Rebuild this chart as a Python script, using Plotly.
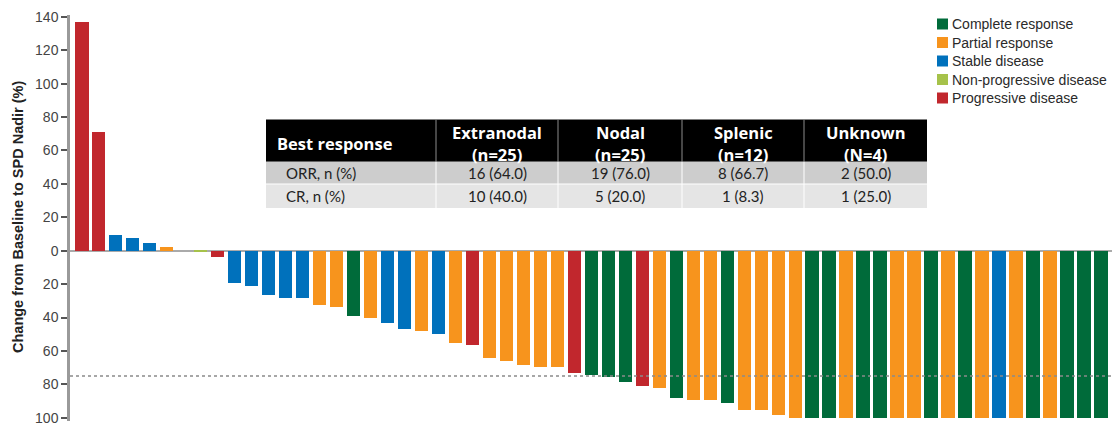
import plotly.graph_objects as go

# Best percent change from baseline to SPD nadir, one bar per patient (sorted)
change_pct = [
    137, 71, 9.5, 7.5, 4.5, 2, 0, -1, -4,
    -19.5, -21.3, -26.5, -28, -28, -32.5, -33.7, -39, -40.4, -43.4, -46.6,
    -48.3, -50, -55, -56.7, -64.4, -66.2, -68.4, -69.6, -69.6, -73.3,
    -74.6, -75.6, -78.8, -80.8, -82.2, -88.2, -89.4, -89.4, -91.4, -95.6,
    -95.6, -98.4, -100, -100, -100, -100, -100, -100, -100, -100,
    -100, -100, -100, -100, -100, -100, -100, -100, -100, -100, -100,
]
best_response = [
    "PD", "PD", "SD", "SD", "SD", "PR", "SD", "NP", "PD",
    "SD", "SD", "SD", "SD", "SD", "PR", "PR", "CR", "PR", "SD", "SD",
    "PR", "SD", "PR", "PD", "PR", "PR", "PR", "PR", "PR", "PD",
    "CR", "CR", "CR", "PD", "PR", "CR", "PR", "PR", "CR", "PR",
    "PR", "PR", "PR", "CR", "CR", "PR", "CR", "CR", "PR", "PR",
    "CR", "PR", "CR", "PR", "SD", "PR", "CR", "PR", "CR", "CR", "CR",
]

response_codes = ["CR", "PR", "SD", "NP", "PD"]
response_names = ["Complete response", "Partial response", "Stable disease",
                  "Non-progressive disease", "Progressive disease"]
response_colors = ["#006B3A", "#F7941D", "#0071BC", "#A6C24A", "#C1272D"]

threshold = -75

y_tickvals = [140, 120, 100, 80, 60, 40, 20, 0, -20, -40, -60, -80, -100]
y_ticktext = [str(abs(v)) for v in y_tickvals]

# Response summary by disease site
table_corner = "Best response"
table_sites = ["Extranodal", "Nodal", "Splenic", "Unknown"]
table_site_n = ["(n=25)", "(n=25)", "(n=12)", "(N=4)"]
table_rows = ["ORR, n (%)", "CR, n (%)"]
table_values = [
    ["16 (64.0)", "19 (76.0)", "8 (66.7)", "2 (50.0)"],
    ["10 (40.0)", "5 (20.0)", "1 (8.3)", "1 (25.0)"],
]

W, H = 1114, 425
ML, MR, MT, MB = 70, 2, 15, 4


def px_x(px):
    return (px - ML) / (W - ML - MR)


def px_y(py):
    return 1 - (py - MT) / (H - MT - MB)


fig = go.Figure()

slots = list(range(1, len(change_pct) + 1))
for code, name, color in zip(response_codes, response_names, response_colors):
    xs = [s for s, r in zip(slots, best_response) if r == code]
    ys = [v for v, r in zip(change_pct, best_response) if r == code]
    fig.add_trace(go.Bar(
        x=xs, y=ys, name=name, width=0.8,
        marker=dict(color=color, line=dict(width=0)),
        hoverinfo="skip", showlegend=False,
    ))

# threshold reference line
fig.add_shape(type="line", xref="paper", yref="y", x0=0, x1=1.002,
              y0=threshold, y1=threshold,
              line=dict(color="#8A8A8A", width=1.5, dash="dot"), layer="above")

# ---- legend (square swatches + labels) ----
leg_x0, leg_y0, leg_dy, sw = 937, 24, 18.5, 11
for i, (name, color) in enumerate(zip(response_names, response_colors)):
    cy = leg_y0 + i * leg_dy
    fig.add_shape(type="rect", xref="paper", yref="paper",
                  x0=px_x(leg_x0), x1=px_x(leg_x0 + sw),
                  y0=px_y(cy + sw / 2), y1=px_y(cy - sw / 2),
                  fillcolor=color, line=dict(width=0))
    fig.add_annotation(text=name, xref="paper", yref="paper",
                       x=px_x(leg_x0 + sw + 2), y=px_y(cy),
                       xanchor="left", yanchor="middle", showarrow=False,
                       font=dict(family="Liberation Sans, Arial", size=14,
                                 color="#2A2A2A"))

# ---- response summary table ----
col_edges = [266, 436, 558, 682, 804, 927]
row_edges = [119.5, 161.7, 184, 208]
row_fills = ["#CDCDCD", "#E5E5E5"]
hdr_font = dict(family="Open Sans", size=16.5, color="white")
body_font = dict(family="Lato", size=15, color="#222")

fig.add_shape(type="rect", xref="paper", yref="paper",
              x0=px_x(col_edges[0]), x1=px_x(col_edges[-1]),
              y0=px_y(row_edges[1]), y1=px_y(row_edges[0]),
              fillcolor="black", line=dict(width=0))
for r, fill in enumerate(row_fills):
    fig.add_shape(type="rect", xref="paper", yref="paper",
                  x0=px_x(col_edges[0]), x1=px_x(col_edges[-1]),
                  y0=px_y(row_edges[r + 2]), y1=px_y(row_edges[r + 1]),
                  fillcolor=fill, line=dict(width=0))
for cx in col_edges[1:-1]:
    fig.add_shape(type="line", xref="paper", yref="paper",
                  x0=px_x(cx), x1=px_x(cx),
                  y0=px_y(row_edges[1]), y1=px_y(row_edges[0]),
                  line=dict(color="#8C8C8C", width=1))
    fig.add_shape(type="line", xref="paper", yref="paper",
                  x0=px_x(cx), x1=px_x(cx),
                  y0=px_y(row_edges[-1]), y1=px_y(row_edges[1]),
                  line=dict(color="white", width=1))
fig.add_shape(type="line", xref="paper", yref="paper",
              x0=px_x(col_edges[0]), x1=px_x(col_edges[-1]),
              y0=px_y(row_edges[2]), y1=px_y(row_edges[2]),
              line=dict(color="white", width=1))

fig.add_annotation(text="<b>%s</b>" % table_corner, xref="paper", yref="paper",
                   x=px_x(col_edges[0] + 9), y=px_y(143),
                   xanchor="left", yanchor="middle", showarrow=False,
                   font=hdr_font)
for j, (site, n) in enumerate(zip(table_sites, table_site_n)):
    cx = (col_edges[j + 1] + col_edges[j + 2]) / 2
    fig.add_annotation(text="<b>%s</b>" % site, xref="paper", yref="paper",
                       x=px_x(cx), y=px_y(132.5), xanchor="center",
                       yanchor="middle", showarrow=False, font=hdr_font)
    fig.add_annotation(text="<b>%s</b>" % n, xref="paper", yref="paper",
                       x=px_x(cx), y=px_y(154.5), xanchor="center",
                       yanchor="middle", showarrow=False, font=hdr_font)

for r, (label, vals) in enumerate(zip(table_rows, table_values)):
    cy = (row_edges[r + 1] + row_edges[r + 2]) / 2
    fig.add_annotation(text=label, xref="paper", yref="paper",
                       x=px_x(col_edges[0] + 18), y=px_y(cy),
                       xanchor="left", yanchor="middle", showarrow=False,
                       font=body_font)
    for j, v in enumerate(vals):
        cx = (col_edges[j + 1] + col_edges[j + 2]) / 2
        fig.add_annotation(text=v, xref="paper", yref="paper",
                           x=px_x(cx), y=px_y(cy), xanchor="center",
                           yanchor="middle", showarrow=False, font=body_font)

fig.add_annotation(
    text="<b>Change from Baseline to SPD Nadir (%)</b>",
    xref="paper", yref="paper", x=px_x(18), y=px_y(217),
    textangle=-90, showarrow=False, xanchor="center", yanchor="middle",
    font=dict(family="Liberation Sans, Arial", size=14.5, color="#222"),
)

fig.update_layout(
    width=W, height=H,
    margin=dict(l=ML, r=MR, t=MT, b=MB, autoexpand=False),
    plot_bgcolor="white", paper_bgcolor="white",
    barmode="overlay", bargap=0,
    font=dict(family="Liberation Sans, Arial", color="#333"),
    showlegend=False,
    xaxis=dict(range=[0.311, 61.64], visible=False, fixedrange=True),
    yaxis=dict(
        range=[-101.9, 141.05], automargin=False,
        tickvals=y_tickvals, ticktext=y_ticktext,
        ticks="outside", ticklen=6, tickwidth=1.5, tickcolor="#555",
        ticklabeloverflow="allow",
        showline=True, linecolor="#9A9A9A", linewidth=2.5,
        showgrid=False,
        zeroline=True, zerolinecolor="#AAAAAA", zerolinewidth=2,
        tickfont=dict(family="Liberation Sans, Arial", size=14, color="#444"),
    ),
)

fig.write_html("out.html")
